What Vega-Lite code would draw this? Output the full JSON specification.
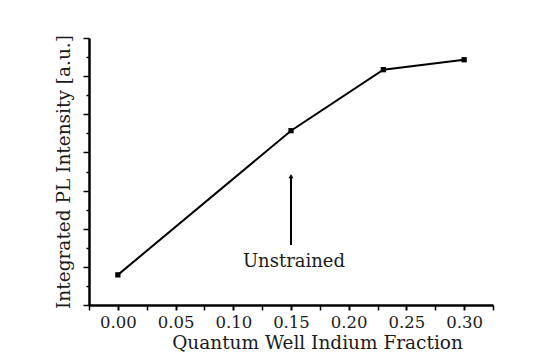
{
  "$schema": "https://vega.github.io/schema/vega-lite/v6.json",
  "autosize": {"type": "none"},
  "width": 404,
  "height": 267,
  "padding": {"left": 89, "top": 38, "right": 46, "bottom": 52},
  "background": "white",
  "config": {
    "view": {"stroke": null},
    "font": "DejaVu Serif",
    "axis": {"grid": false, "domainColor": "black", "domainWidth": 2.5, "tickColor": "black", "tickWidth": 1.5, "labelColor": "#1a1a1a", "titleColor": "#1a1a1a", "labelFont": "DejaVu Serif", "titleFont": "DejaVu Serif"}
  },
  "datasets": {
    "pl": [
      {"fraction": 0.0, "intensity": 0.79},
      {"fraction": 0.15, "intensity": 4.57},
      {"fraction": 0.23, "intensity": 6.17},
      {"fraction": 0.30, "intensity": 6.43}
    ],
    "arrow": [
      {"fraction": 0.15, "y1": 1.57, "y2": 3.38}
    ],
    "label": [
      {"fraction": 0.15, "intensity": 1.13, "text": "Unstrained"}
    ]
  },
  "resolve": {"axis": {"x": "independent", "y": "independent"}},
  "layer": [
    {
      "data": {"name": "pl"},
      "mark": {"type": "line", "color": "black", "strokeWidth": 2},
      "encoding": {
        "x": {
          "field": "fraction", "type": "quantitative",
          "scale": {"domain": [-0.025, 0.325], "nice": false, "zero": false},
          "axis": {
            "orient": "bottom",
            "title": "Quantum Well Indium Fraction",
            "titleFontSize": 18.5, "titleFontWeight": "normal", "titlePadding": 3,
            "titleX": 228, "titleAlign": "center",
            "values": [0, 0.05, 0.1, 0.15, 0.2, 0.25, 0.3],
            "format": ".2f",
            "labelFontSize": 16.5, "labelPadding": 4, "tickSize": 5, "tickWidth": 2, "labelFlush": false, "labelOverlap": false
          }
        },
        "y": {
          "field": "intensity", "type": "quantitative",
          "scale": {"domain": [0, 7], "nice": false},
          "axis": {
            "orient": "left",
            "title": "Integrated PL Intensity [a.u.]",
            "titleFontSize": 18.5, "titleFontWeight": "normal", "titlePadding": 9,
            "values": [0, 1, 2, 3, 4, 5, 6, 7],
            "labels": false,
            "tickSize": 6
          }
        }
      }
    },
    {
      "data": {"name": "pl"},
      "mark": {"type": "square", "color": "black", "opacity": 1, "size": 28, "filled": true},
      "encoding": {
        "x": {
          "field": "fraction", "type": "quantitative",
          "axis": {
            "orient": "bottom", "title": null, "labels": false, "domain": false,
            "values": [-0.025, 0.025, 0.075, 0.125, 0.175, 0.225, 0.275, 0.325],
            "tickSize": 5
          }
        },
        "y": {
          "field": "intensity", "type": "quantitative",
          "axis": {
            "orient": "left", "title": null, "labels": false, "domain": false,
            "values": [0.5, 1.5, 2.5, 3.5, 4.5, 5.5, 6.5],
            "tickSize": 3
          }
        }
      }
    },
    {
      "data": {"name": "arrow"},
      "mark": {"type": "rule", "color": "black", "strokeWidth": 2},
      "encoding": {
        "x": {"field": "fraction", "type": "quantitative", "axis": null},
        "y": {"field": "y1", "type": "quantitative", "axis": null},
        "y2": {"field": "y2"}
      }
    },
    {
      "data": {"name": "arrow"},
      "mark": {"type": "point", "shape": "triangle-up", "color": "black", "filled": true, "opacity": 1, "size": 25},
      "encoding": {
        "x": {"field": "fraction", "type": "quantitative", "axis": null},
        "y": {"field": "y2", "type": "quantitative", "axis": null}
      }
    },
    {
      "data": {"name": "label"},
      "mark": {"type": "text", "fontSize": 18, "font": "DejaVu Serif", "color": "#1a1a1a", "align": "center", "baseline": "middle", "dx": 3},
      "encoding": {
        "x": {"field": "fraction", "type": "quantitative", "axis": null},
        "y": {"field": "intensity", "type": "quantitative", "axis": null},
        "text": {"field": "text"}
      }
    }
  ]
}
